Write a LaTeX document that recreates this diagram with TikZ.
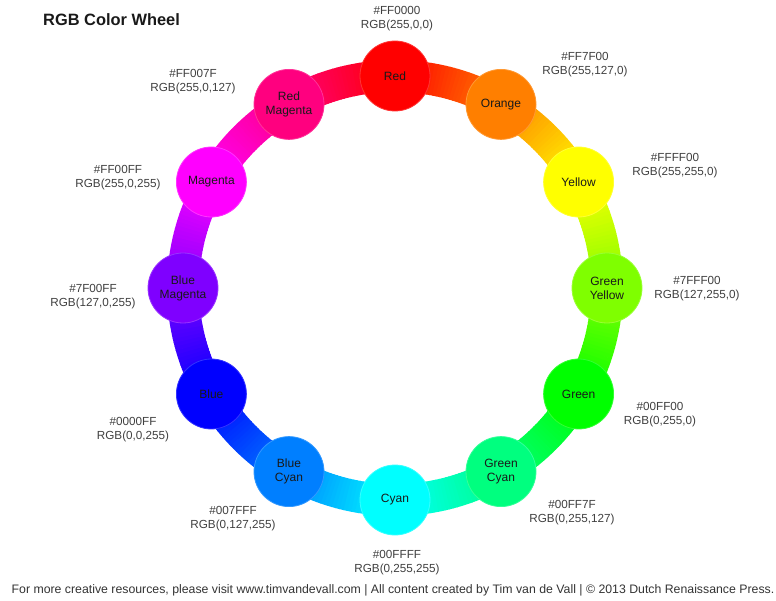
\documentclass[tikz,border=0pt]{standalone}
\usepackage{fontspec}
\setmainfont{Liberation Sans}
\usetikzlibrary{calc}

\definecolor{cRed}{HTML}{FF0000}
\definecolor{cOrange}{HTML}{FF7F00}
\definecolor{cYellow}{HTML}{FFFF00}
\definecolor{cGreenYellow}{HTML}{7FFF00}
\definecolor{cGreen}{HTML}{00FF00}
\definecolor{cGreenCyan}{HTML}{00FF7F}
\definecolor{cCyan}{HTML}{00FFFF}
\definecolor{cBlueCyan}{HTML}{007FFF}
\definecolor{cBlue}{HTML}{0000FF}
\definecolor{cBlueMagenta}{HTML}{7F00FF}
\definecolor{cMagenta}{HTML}{FF00FF}
\definecolor{cRedMagenta}{HTML}{FF007F}

\begin{document}
\begin{tikzpicture}[x=1pt,y=1pt,
  hue/.style={circle, minimum size=70pt, inner sep=0pt, align=center,
    text=black!90, font=\fontsize{12}{14}\selectfont, line width=0.8pt},
  band/.style={line width=32pt, line cap=butt},
  code/.style={align=center, text=black!75, font=\fontsize{11.7}{14}\selectfont},
  heading/.style={anchor=base west, inner sep=0pt, text=black!90,
    font=\bfseries\fontsize{16.4}{18}\selectfont},
  credit/.style={text=black!80, font=\fontsize{12.3}{14}\selectfont}]
\useasboundingbox (0,0) rectangle (776,600);
\coordinate (hub) at (395,312);

% gradient band: each 30 degree segment blended in small steps
\foreach \i/\ca/\cb in {0/cRed/cOrange, 1/cOrange/cYellow, 2/cYellow/cGreenYellow,
    3/cGreenYellow/cGreen, 4/cGreen/cGreenCyan, 5/cGreenCyan/cCyan,
    6/cCyan/cBlueCyan, 7/cBlueCyan/cBlue, 8/cBlue/cBlueMagenta,
    9/cBlueMagenta/cMagenta, 10/cMagenta/cRedMagenta, 11/cRedMagenta/cRed}{
  \foreach \k in {0,...,29}{
    \pgfmathsetmacro\a{90-30*\i-\k}
    \pgfmathtruncatemacro\p{100*(\k+0.5)/30}
    \draw[band, color=\cb!\p!\ca] ($(hub)+(\a:212)$)
      arc[start angle=\a, end angle=\a-1.2, radius=212];
  }
}

% colour discs
\foreach \i/\col/\txt in {0/cRed/Red, 1/cOrange/Orange, 2/cYellow/Yellow,
    3/cGreenYellow/{Green\\Yellow}, 4/cGreen/Green, 5/cGreenCyan/{Green\\Cyan},
    6/cCyan/Cyan, 7/cBlueCyan/{Blue\\Cyan}, 8/cBlue/Blue,
    9/cBlueMagenta/{Blue\\Magenta}, 10/cMagenta/Magenta, 11/cRedMagenta/{Red\\Magenta}}{
  \node[hue, fill=\col, draw=\col!80!white] (n\i) at ($(hub)+(90-30*\i:212)$) {\txt};
}

% hex and RGB codes
\node[code] (l0) at (397,581) {\#FF0000\\RGB(255,0,0)};
\node[code] (l1) at (585,535) {\#FF7F00\\RGB(255,127,0)};
\node[code] (l2) at (675,434) {\#FFFF00\\RGB(255,255,0)};
\node[code] (l3) at (697,311) {\#7FFF00\\RGB(127,255,0)};
\node[code] (l4) at (660,185) {\#00FF00\\RGB(0,255,0)};
\node[code] (l5) at (572,87) {\#00FF7F\\RGB(0,255,127)};
\node[code] (l6) at (397,37) {\#00FFFF\\RGB(0,255,255)};
\node[code] (l7) at (233,81) {\#007FFF\\RGB(0,127,255)};
\node[code] (l8) at (133,170) {\#0000FF\\RGB(0,0,255)};
\node[code] (l9) at (93,303) {\#7F00FF\\RGB(127,0,255)};
\node[code] (l10) at (118,422) {\#FF00FF\\RGB(255,0,255)};
\node[code] (l11) at (193,518) {\#FF007F\\RGB(255,0,127)};

% title and credit line
\node[heading] (title) at (43,574) {RGB Color Wheel};
\node[credit] (foot) at (393,10) {For more creative resources, please visit www.timvandevall.com | All content created by Tim van de Vall | © 2013 Dutch Renaissance Press.};
\end{tikzpicture}
\end{document}
